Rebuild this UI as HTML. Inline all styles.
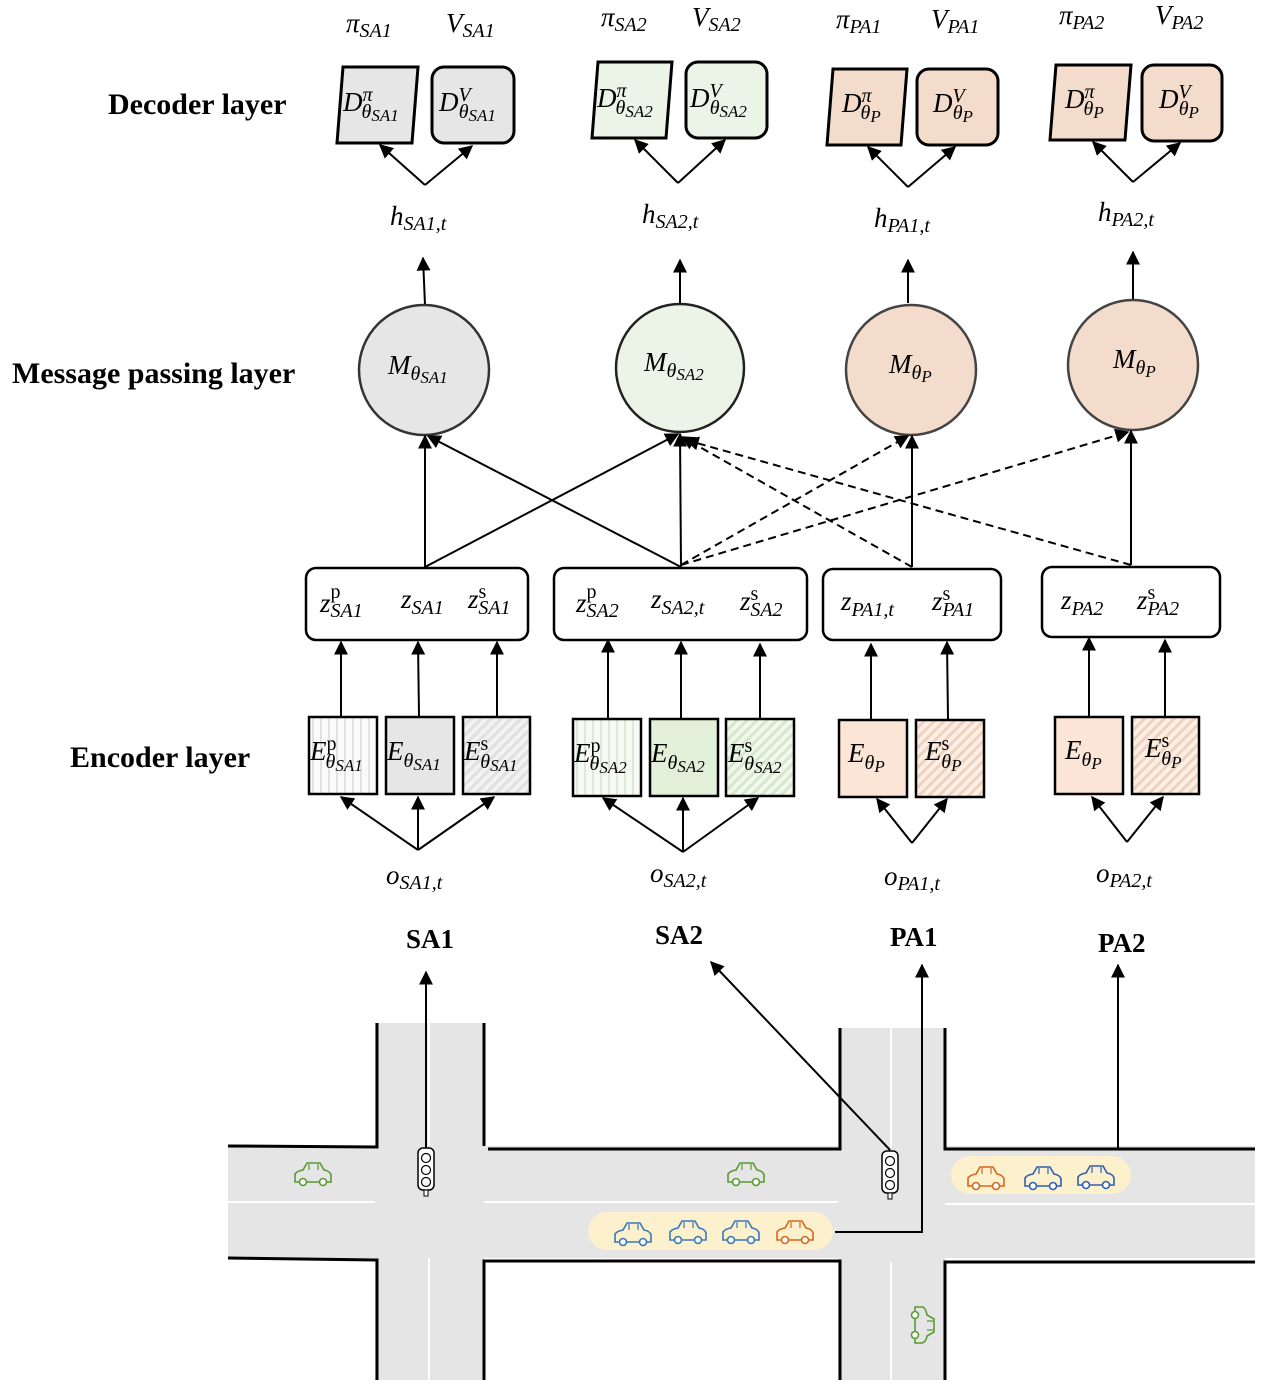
<!DOCTYPE html>
<html><head><meta charset="utf-8"><style>
html,body{margin:0;padding:0;background:#fff;}
svg{display:block;}
.m{font-family:"Liberation Serif",serif;font-style:italic;font-size:27px;fill:#000;}
.s{font-size:20px;}
.t{font-size:17px;}
.b{font-family:"Liberation Serif",serif;font-weight:bold;font-size:30px;fill:#000;}
.bb{font-family:"Liberation Serif",serif;font-weight:bold;font-size:27px;fill:#000;}
.ln{stroke:#000;stroke-width:2;fill:none;}
</style></head><body>
<svg width="1279" height="1395" viewBox="0 0 1279 1395" xmlns="http://www.w3.org/2000/svg">
<defs>
<marker id="a" viewBox="0 0 10 10" refX="9" refY="5" markerWidth="7" markerHeight="7" orient="auto-start-reverse"><path d="M0,0L10,5L0,10z" fill="#000"/></marker>
<pattern id="pg" width="8" height="8" patternUnits="userSpaceOnUse"><rect width="8" height="8" fill="#fafafa"/><rect x="0" width="2" height="8" fill="#e2e2e2"/></pattern>
<pattern id="sg" width="7" height="7" patternUnits="userSpaceOnUse" patternTransform="rotate(45)"><rect width="7" height="7" fill="#f2f2f2"/><rect width="3" height="7" fill="#e0e0e0"/></pattern>
<pattern id="pgr" width="8" height="8" patternUnits="userSpaceOnUse"><rect width="8" height="8" fill="#f8fbf5"/><rect x="0" width="2" height="8" fill="#dcebd3"/></pattern>
<pattern id="sgr" width="7" height="7" patternUnits="userSpaceOnUse" patternTransform="rotate(45)"><rect width="7" height="7" fill="#f3f8ef"/><rect width="3" height="7" fill="#d6e8cb"/></pattern>
<pattern id="spe" width="7" height="7" patternUnits="userSpaceOnUse" patternTransform="rotate(45)"><rect width="7" height="7" fill="#fbefe6"/><rect width="3" height="7" fill="#efd2bd"/></pattern>
<g id="car"><path d="M-18,6 L-18,-2 Q-16,-5 -10,-6 L-6,-13 L7,-13 L11,-6 Q17,-5 18,-1 L18,6 Z" fill="none" stroke-width="1.6"/><circle cx="-10" cy="6" r="3.5" fill="#fff" stroke-width="1.6"/><circle cx="10" cy="6" r="3.5" fill="#fff" stroke-width="1.6"/><path d="M-4,-12 L-4,-6 M5,-12 L5,-6" stroke-width="1.2"/></g>
<g id="tl"><rect x="-8" y="-22" width="16" height="42" rx="5" fill="#fff" stroke="#000" stroke-width="1.5"/><circle cy="-12" r="4.5" fill="#fff" stroke="#000" stroke-width="1.2"/><circle cy="0" r="4.5" fill="#fff" stroke="#000" stroke-width="1.2"/><circle cy="12" r="4.5" fill="#fff" stroke="#000" stroke-width="1.2"/><rect x="-2" y="20" width="4" height="6" fill="#fff" stroke="#000"/></g>
</defs>

<text class="b" x="108" y="114">Decoder layer</text>
<text class="b" x="12" y="383">Message passing layer</text>
<text class="b" x="70" y="767">Encoder layer</text>

<text class="m" x="346" y="32">π<tspan class="s" dy="5">SA1</tspan></text>
<text class="m" x="446" y="32">V<tspan class="s" dy="5">SA1</tspan></text>
<text class="m" x="601" y="26">π<tspan class="s" dy="5">SA2</tspan></text>
<text class="m" x="692" y="26">V<tspan class="s" dy="5">SA2</tspan></text>
<text class="m" x="836" y="28">π<tspan class="s" dy="5">PA1</tspan></text>
<text class="m" x="931" y="28">V<tspan class="s" dy="5">PA1</tspan></text>
<text class="m" x="1059" y="24">π<tspan class="s" dy="5">PA2</tspan></text>
<text class="m" x="1155" y="24">V<tspan class="s" dy="5">PA2</tspan></text>

<path d="M343,67 L418,67 L412,143 L337,143 Z" fill="#e6e6e6" stroke="#000" stroke-width="3"/>
<rect x="432" y="67" width="82" height="76" rx="12" fill="#e6e6e6" stroke="#000" stroke-width="3"/>
<path d="M598,62 L672,62 L666,138 L592,138 Z" fill="#ebf4e6" stroke="#000" stroke-width="3"/>
<rect x="686" y="62" width="81" height="76" rx="12" fill="#ebf4e6" stroke="#000" stroke-width="3"/>
<path d="M833,69 L907,69 L901,145 L827,145 Z" fill="#f3dccb" stroke="#000" stroke-width="3"/>
<rect x="917" y="69" width="81" height="76" rx="12" fill="#f3dccb" stroke="#000" stroke-width="3"/>
<path d="M1056,65 L1131,65 L1125,140 L1050,140 Z" fill="#f3dccb" stroke="#000" stroke-width="3"/>
<rect x="1142" y="65" width="80" height="76" rx="12" fill="#f3dccb" stroke="#000" stroke-width="3"/>

<g class="m">
<text x="343" y="111">D<tspan class="s" dy="-10">π</tspan><tspan class="s" dx="-11" dy="17">θ</tspan><tspan class="t" dy="3">SA1</tspan></text>
<text x="439" y="111">D<tspan class="s" dy="-10">V</tspan><tspan class="s" dx="-12" dy="17">θ</tspan><tspan class="t" dy="3">SA1</tspan></text>
<text x="597" y="107">D<tspan class="s" dy="-10">π</tspan><tspan class="s" dx="-11" dy="17">θ</tspan><tspan class="t" dy="3">SA2</tspan></text>
<text x="690" y="107">D<tspan class="s" dy="-10">V</tspan><tspan class="s" dx="-12" dy="17">θ</tspan><tspan class="t" dy="3">SA2</tspan></text>
<text x="842" y="112">D<tspan class="s" dy="-10">π</tspan><tspan class="s" dx="-11" dy="17">θ</tspan><tspan class="t" dy="3">P</tspan></text>
<text x="933" y="112">D<tspan class="s" dy="-10">V</tspan><tspan class="s" dx="-12" dy="17">θ</tspan><tspan class="t" dy="3">P</tspan></text>
<text x="1065" y="108">D<tspan class="s" dy="-10">π</tspan><tspan class="s" dx="-11" dy="17">θ</tspan><tspan class="t" dy="3">P</tspan></text>
<text x="1159" y="108">D<tspan class="s" dy="-10">V</tspan><tspan class="s" dx="-12" dy="17">θ</tspan><tspan class="t" dy="3">P</tspan></text>
</g>

<g class="ln" marker-end="url(#a)">
<path d="M425,185 L380,145"/><path d="M425,185 L472,146"/>
<path d="M678,183 L635,140"/><path d="M678,183 L725,140"/>
<path d="M908,187 L868,147"/><path d="M908,187 L955,147"/>
<path d="M1133,182 L1093,142"/><path d="M1133,182 L1180,143"/>
<path d="M425,305 L423,258"/><path d="M680,303 L680,260"/><path d="M908,303 L908,260"/><path d="M1133,300 L1133,252"/>
</g>

<text class="m" x="390" y="225">h<tspan class="s" dy="5">SA1,t</tspan></text>
<text class="m" x="642" y="223">h<tspan class="s" dy="5">SA2,t</tspan></text>
<text class="m" x="874" y="227">h<tspan class="s" dy="5">PA1,t</tspan></text>
<text class="m" x="1098" y="221">h<tspan class="s" dy="5">PA2,t</tspan></text>

<circle cx="424" cy="370" r="65" fill="#e6e6e6" stroke="#333" stroke-width="2.5"/>
<circle cx="680" cy="368" r="64" fill="#ebf4e6" stroke="#222" stroke-width="2.5"/>
<circle cx="911" cy="370" r="65" fill="#f3dccb" stroke="#444" stroke-width="2.5"/>
<circle cx="1133" cy="365" r="65" fill="#f3dccb" stroke="#444" stroke-width="2.5"/>
<text class="m" x="388" y="374">M<tspan class="s" dy="6">θ</tspan><tspan class="t" dy="3">SA1</tspan></text>
<text class="m" x="644" y="371">M<tspan class="s" dy="6">θ</tspan><tspan class="t" dy="3">SA2</tspan></text>
<text class="m" x="889" y="373">M<tspan class="s" dy="6">θ</tspan><tspan class="t" dy="3">P</tspan></text>
<text class="m" x="1113" y="368">M<tspan class="s" dy="6">θ</tspan><tspan class="t" dy="3">P</tspan></text>

<g class="ln" marker-end="url(#a)">
<path d="M425,567 L425,436"/>
<path d="M425,567 L678,434"/>
<path d="M681,567 L680,434"/>
<path d="M681,567 L428,436"/>
<path d="M912,567 L912,436"/>
<path d="M1131,565 L1131,431"/>
<path d="M681,565 L908,436" stroke-dasharray="8,5"/>
<path d="M681,565 L1128,432" stroke-dasharray="8,5"/>
<path d="M912,567 L682,437" stroke-dasharray="8,5"/>
<path d="M1131,565 L686,440" stroke-dasharray="8,5"/>
</g>

<rect x="306" y="568" width="222" height="72" rx="10" fill="#fff" stroke="#000" stroke-width="2.5"/>
<rect x="554" y="568" width="253" height="72" rx="10" fill="#fff" stroke="#000" stroke-width="2.5"/>
<rect x="823" y="569" width="178" height="71" rx="10" fill="#fff" stroke="#000" stroke-width="2.5"/>
<rect x="1042" y="567" width="178" height="70" rx="10" fill="#fff" stroke="#000" stroke-width="2.5"/>
<g class="m">
<text x="320" y="612">z<tspan class="s" style="font-style:normal" dy="-14">p</tspan><tspan class="s" dx="-10" dy="19">SA1</tspan></text>
<text x="401" y="608">z<tspan class="s" dy="6">SA1</tspan></text>
<text x="468" y="608">z<tspan class="s" style="font-style:normal" dy="-10">s</tspan><tspan class="s" dx="-8" dy="16">SA1</tspan></text>
<text x="576" y="612">z<tspan class="s" style="font-style:normal" dy="-14">p</tspan><tspan class="s" dx="-10" dy="19">SA2</tspan></text>
<text x="651" y="608">z<tspan class="s" dy="6">SA2,t</tspan></text>
<text x="740" y="610">z<tspan class="s" style="font-style:normal" dy="-10">s</tspan><tspan class="s" dx="-8" dy="16">SA2</tspan></text>
<text x="841" y="610">z<tspan class="s" dy="6">PA1,t</tspan></text>
<text x="932" y="610">z<tspan class="s" style="font-style:normal" dy="-10">s</tspan><tspan class="s" dx="-8" dy="16">PA1</tspan></text>
<text x="1061" y="609">z<tspan class="s" dy="6">PA2</tspan></text>
<text x="1137" y="609">z<tspan class="s" style="font-style:normal" dy="-10">s</tspan><tspan class="s" dx="-8" dy="16">PA2</tspan></text>
</g>

<g class="ln" marker-end="url(#a)">
<path d="M341,716 L341,642"/><path d="M419,716 L418,642"/><path d="M497,716 L497,642"/>
<path d="M608,718 L608,640"/><path d="M681,718 L681,642"/><path d="M760,718 L760,644"/>
<path d="M871,719 L871,644"/><path d="M948,719 L947,642"/>
<path d="M1089,716 L1089,638"/><path d="M1165,716 L1165,640"/>
</g>

<rect x="309" y="717" width="68" height="77" fill="url(#pg)" stroke="#000" stroke-width="2.5"/>
<rect x="386" y="717" width="68" height="77" fill="#e6e6e6" stroke="#000" stroke-width="2.5"/>
<rect x="463" y="717" width="67" height="77" fill="url(#sg)" stroke="#000" stroke-width="2.5"/>
<rect x="573" y="719" width="68" height="77" fill="url(#pgr)" stroke="#000" stroke-width="2.5"/>
<rect x="650" y="719" width="68" height="77" fill="#e2efd9" stroke="#000" stroke-width="2.5"/>
<rect x="726" y="719" width="68" height="77" fill="url(#sgr)" stroke="#000" stroke-width="2.5"/>
<rect x="839" y="720" width="68" height="77" fill="#fbe5d6" stroke="#000" stroke-width="2.5"/>
<rect x="916" y="720" width="68" height="77" fill="url(#spe)" stroke="#000" stroke-width="2.5"/>
<rect x="1055" y="717" width="68" height="77" fill="#fbe5d6" stroke="#000" stroke-width="2.5"/>
<rect x="1132" y="717" width="67" height="77" fill="url(#spe)" stroke="#000" stroke-width="2.5"/>
<g class="m">
<text x="310" y="760">E<tspan class="s" style="font-style:normal" dy="-10">p</tspan><tspan class="s" dx="-11" dy="18">θ</tspan><tspan class="t" dy="3">SA1</tspan></text>
<text x="387" y="760">E<tspan class="s" dy="7">θ</tspan><tspan class="t" dy="3">SA1</tspan></text>
<text x="464" y="760">E<tspan class="s" style="font-style:normal" dy="-10">s</tspan><tspan class="s" dx="-8" dy="18">θ</tspan><tspan class="t" dy="3">SA1</tspan></text>
<text x="574" y="762">E<tspan class="s" style="font-style:normal" dy="-10">p</tspan><tspan class="s" dx="-11" dy="18">θ</tspan><tspan class="t" dy="3">SA2</tspan></text>
<text x="651" y="762">E<tspan class="s" dy="7">θ</tspan><tspan class="t" dy="3">SA2</tspan></text>
<text x="728" y="762">E<tspan class="s" style="font-style:normal" dy="-10">s</tspan><tspan class="s" dx="-8" dy="18">θ</tspan><tspan class="t" dy="3">SA2</tspan></text>
<text x="848" y="762">E<tspan class="s" dy="7">θ</tspan><tspan class="t" dy="3">P</tspan></text>
<text x="925" y="760">E<tspan class="s" style="font-style:normal" dy="-10">s</tspan><tspan class="s" dx="-8" dy="18">θ</tspan><tspan class="t" dy="3">P</tspan></text>
<text x="1065" y="759">E<tspan class="s" dy="7">θ</tspan><tspan class="t" dy="3">P</tspan></text>
<text x="1145" y="757">E<tspan class="s" style="font-style:normal" dy="-10">s</tspan><tspan class="s" dx="-8" dy="18">θ</tspan><tspan class="t" dy="3">P</tspan></text>
</g>

<g class="ln" marker-end="url(#a)">
<path d="M418,850 L341,797"/><path d="M418,850 L418,797"/><path d="M418,850 L494,797"/>
<path d="M683,852 L603,798"/><path d="M683,852 L683,798"/><path d="M683,852 L758,798"/>
<path d="M912,843 L877,799"/><path d="M912,843 L947,799"/>
<path d="M1127,842 L1092,797"/><path d="M1127,842 L1163,797"/>
</g>
<text class="m" x="386" y="884">o<tspan class="s" dy="5">SA1,t</tspan></text>
<text class="m" x="650" y="882">o<tspan class="s" dy="5">SA2,t</tspan></text>
<text class="m" x="884" y="885">o<tspan class="s" dy="5">PA1,t</tspan></text>
<text class="m" x="1096" y="882">o<tspan class="s" dy="5">PA2,t</tspan></text>

<text class="bb" x="406" y="948">SA1</text>
<text class="bb" x="655" y="944">SA2</text>
<text class="bb" x="890" y="946">PA1</text>
<text class="bb" x="1098" y="952">PA2</text>

<g fill="#e5e5e5">
<rect x="375" y="1023" width="109" height="357"/>
<rect x="838" y="1028" width="107" height="352"/>
<rect x="228" y="1146" width="1027" height="112"/>
</g>
<g stroke="#fff" stroke-width="2">
<path d="M228,1202 L375,1202 M484,1202 L838,1202 M945,1204 L1255,1204"/>
<path d="M429,1023 L429,1146 M429,1258 L429,1380 M891,1028 L891,1148 M891,1262 L891,1380"/>
</g>
<g stroke="#000" stroke-width="3" fill="none">
<path d="M228,1146 L377,1147 L377,1023"/>
<path d="M484,1023 L484,1146"/>
<path d="M488,1149 L840,1149 L840,1028"/>
<path d="M945,1028 L945,1149 L1255,1149"/>
<path d="M228,1258 L377,1260 L377,1380"/>
<path d="M484,1380 L484,1261 L840,1261 L840,1380"/>
<path d="M945,1380 L945,1262 L1255,1262"/>
</g>
<rect x="588" y="1212" width="245" height="38" rx="19" fill="#fdf0cc"/>
<rect x="951" y="1156" width="180" height="38" rx="19" fill="#fdf0cc"/>

<use href="#car" x="313" y="1176" stroke="#5a9a32"/>
<use href="#car" x="746" y="1176" stroke="#5a9a32"/>
<use href="#car" x="0" y="0" stroke="#5a9a32" transform="translate(921,1325) rotate(90)"/>
<use href="#car" x="633" y="1236" stroke="#3a78b5"/>
<use href="#car" x="688" y="1234" stroke="#3a78b5"/>
<use href="#car" x="741" y="1234" stroke="#3a78b5"/>
<use href="#car" x="795" y="1234" stroke="#d2691e"/>
<use href="#car" x="986" y="1180" stroke="#d2691e"/>
<use href="#car" x="1043" y="1180" stroke="#2f5fb0"/>
<use href="#car" x="1096" y="1179" stroke="#2f5fb0"/>
<use href="#tl" x="426" y="1170"/>
<use href="#tl" x="890" y="1173"/>

<g class="ln" marker-end="url(#a)">
<path d="M426,1148 L426,972"/>
<path d="M890,1150 L711,962"/>
<path d="M835,1232 L922,1232 L922,965"/>
<path d="M1118,1150 L1118,965"/>
</g>
</svg>
</body></html>
